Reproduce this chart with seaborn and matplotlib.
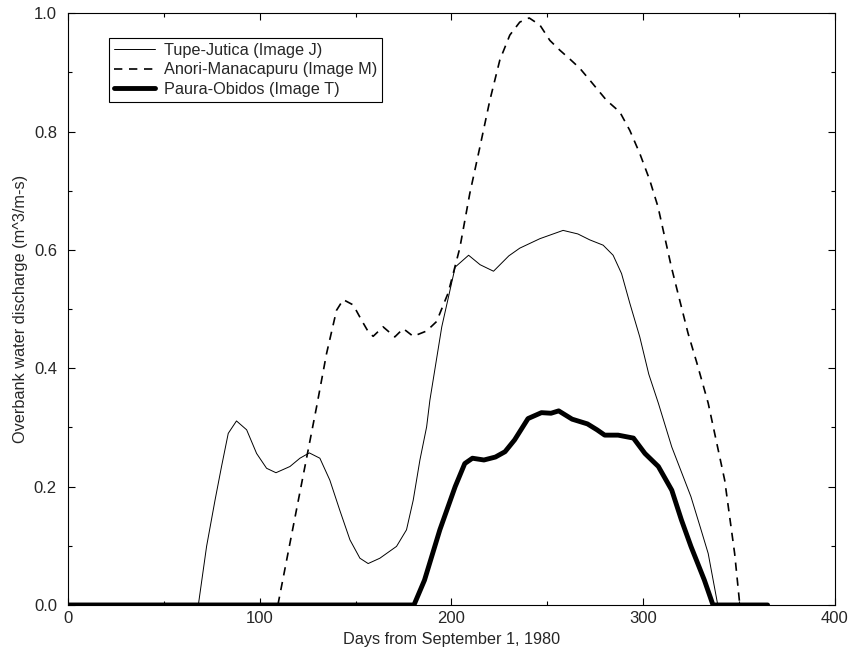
import matplotlib
matplotlib.use('Agg')
import matplotlib.pyplot as plt
from matplotlib.ticker import MultipleLocator
import seaborn as sns
import pandas as pd

# Tupe-Jutica (thin solid)
tupe_days = [0, 68, 72.3, 76.7, 80.1, 83.6, 87.9, 93.2, 98.4, 103.6, 108.5, 115.8, 121,
             125.9, 131.4, 136.6, 141.8, 147.1, 152.3, 156.6, 162.7, 171.4, 176.6, 180.1,
             183.6, 187.1, 188.8, 195, 202, 209, 215, 222, 230, 235.7, 246.2, 258.3, 266,
             272.2, 279.2, 284.4, 288.8, 293.1, 298.3, 303, 308, 315, 320, 325, 330, 334,
             339, 365]
tupe_vals = [0, 0, 0.099, 0.177, 0.234, 0.29, 0.311, 0.296, 0.256, 0.231, 0.2235, 0.234,
             0.248, 0.257, 0.248, 0.211, 0.16, 0.11, 0.079, 0.07, 0.079, 0.099, 0.127,
             0.177, 0.245, 0.301, 0.346, 0.47, 0.571, 0.591, 0.575, 0.564, 0.59, 0.603,
             0.619, 0.633, 0.627, 0.617, 0.608, 0.591, 0.56, 0.51, 0.453, 0.39, 0.341,
             0.267, 0.225, 0.183, 0.13, 0.087, 0, 0]

# Anori-Manacapuru (dashed)
anori_days = [0, 109.5, 125.3, 129.7, 134.9, 140.1, 143.6, 148.8, 153.2, 156.6, 159.2,
              164.4, 170.5, 174.9, 180.1, 187.1, 192.3, 198.3, 204.4, 209.6, 214.9, 220.1,
              225.3, 230.5, 235.7, 240.6, 246.2, 251.4, 256.6, 262, 267, 272.2, 280.9,
              287.9, 293.1, 298.3, 303.5, 307.8, 311.3, 314.8, 318.2, 323.5, 328, 334,
              342.6, 347.8, 350.5, 365]
anori_vals = [0, 0, 0.262, 0.335, 0.425, 0.498, 0.516, 0.507, 0.481, 0.462, 0.454, 0.47,
              0.453, 0.467, 0.454, 0.463, 0.479, 0.527, 0.603, 0.695, 0.774, 0.853, 0.921,
              0.963, 0.985, 0.992, 0.98, 0.954, 0.9375, 0.922, 0.907, 0.887, 0.853, 0.833,
              0.802, 0.763, 0.718, 0.673, 0.622, 0.571, 0.527, 0.459, 0.41, 0.341, 0.211,
              0.087, 0, 0]

# Paura-Obidos (thick solid)
paura_days = [0, 180.5, 186, 194, 202, 207, 211, 217, 223, 228, 233, 240, 247, 252, 256,
              263, 271, 276, 280, 287, 295, 301, 308, 315, 320, 325, 332, 336.5, 365]
paura_vals = [0, 0, 0.042, 0.127, 0.2, 0.239, 0.248, 0.245, 0.25, 0.259, 0.279, 0.315,
              0.325, 0.324, 0.328, 0.314, 0.306, 0.296, 0.287, 0.287, 0.282, 0.256,
              0.234, 0.194, 0.144, 0.099, 0.042, 0, 0]

sns.set_style("ticks")
plt.rcParams['font.family'] = ['Liberation Sans', 'DejaVu Sans']

fig = plt.figure(figsize=(8.5, 6.51), dpi=100)
ax = fig.add_axes([0.08, 0.0707, 0.902, 0.909])

df_t = pd.DataFrame({"day": tupe_days, "q": tupe_vals})
df_a = pd.DataFrame({"day": anori_days, "q": anori_vals})
df_p = pd.DataFrame({"day": paura_days, "q": paura_vals})

sns.lineplot(data=df_t, x="day", y="q", ax=ax, color="black", linewidth=0.7,
             label="Tupe-Jutica (Image J)", sort=False)
sns.lineplot(data=df_a, x="day", y="q", ax=ax, color="black", linewidth=1.2,
             label="Anori-Manacapuru (Image M)", sort=False)
ax.lines[-1].set_dashes([5, 4])
sns.lineplot(data=df_p, x="day", y="q", ax=ax, color="black", linewidth=3.5,
             label="Paura-Obidos (Image T)", sort=False)
for ln in ax.lines:
    ln.set_solid_joinstyle('round')
    ln.set_solid_capstyle('round')

ax.set_xlim(0, 400)
ax.set_ylim(0, 1.0)
ax.xaxis.set_major_locator(MultipleLocator(100))
ax.xaxis.set_minor_locator(MultipleLocator(50))
ax.yaxis.set_major_locator(MultipleLocator(0.2))
ax.yaxis.set_minor_locator(MultipleLocator(0.1))
ax.yaxis.set_major_formatter(plt.FormatStrFormatter('%.1f'))
ax.tick_params(which='both', direction='in', top=True, right=True, labelsize=12,
               color='black', width=0.8)
ax.tick_params(which='major', length=5)
ax.tick_params(which='minor', length=3)
ax.tick_params(axis='y', which='major', pad=8)
ax.tick_params(axis='x', which='major', pad=4)
for sp in ax.spines.values():
    sp.set_visible(True)
    sp.set_color('black')
    sp.set_linewidth(0.8)

ax.set_xlabel("Days from September 1, 1980", fontsize=11.7, labelpad=5)
ax.set_ylabel("Overbank water discharge (m^3/m-s)", fontsize=11.7, labelpad=4)

leg = ax.legend(loc='upper left', bbox_to_anchor=(0.053, 0.958), fontsize=11.7,
                frameon=True, fancybox=False, edgecolor='black', framealpha=1,
                handlelength=2.55, borderpad=0.3, labelspacing=0.28, handletextpad=0.55,
                borderaxespad=0)
leg.get_frame().set_linewidth(0.8)

plt.savefig("out.png", dpi=100)
